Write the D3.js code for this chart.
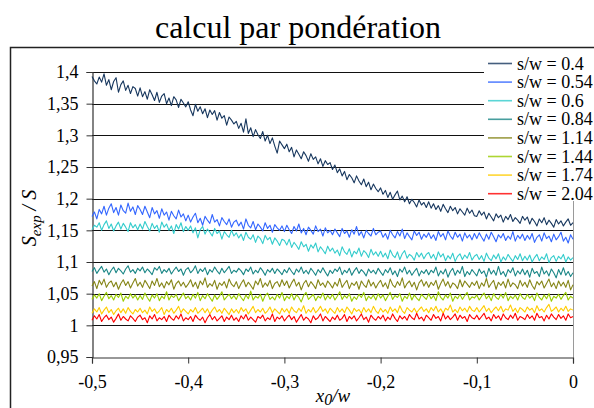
<!DOCTYPE html>
<html>
<head>
<meta charset="utf-8">
<title>calcul par pondération</title>
<script src="https://d3js.org/d3.v7.min.js"></script>
<style>
  body { margin: 0; background: #fff; }
  svg text { font-family: "Liberation Serif", "Times New Roman", serif; fill: #000; }
</style>
</head>
<body>
<svg width="594" height="408" font-family="Liberation Serif"></svg>
<script>
// legend labels and colours
const seriesNames = ["s/w = 0.4", "s/w = 0.54", "s/w = 0.6", "s/w = 0.84",
                     "s/w = 1.14", "s/w = 1.44", "s/w = 1.74", "s/w = 2.04"];
const seriesColors = ["#17375e", "#3366ff", "#33cccc", "#1a8686",
                      "#858517", "#99cc00", "#ffcc00", "#ff0000"];

// x0/w sample positions, every 0.0025 from -0.5 to 0
const xValues = d3.range(0, 201).map(i => -0.5 + i * 0.0025);

// axis ticks
const yTicks = [0.95, 1, 1.05, 1.1, 1.15, 1.2, 1.25, 1.3, 1.35, 1.4];
const yTickLabels = ["0,95", "1", "1,05", "1,1", "1,15", "1,2", "1,25", "1,3", "1,35", "1,4"];
const xTicks = [-0.5, -0.4, -0.3, -0.2, -0.1, 0];
const xTickLabels = ["-0,5", "-0,4", "-0,3", "-0,2", "-0,1", "0"];

// Sexp/S (201 samples per curve)
const sw040 = [
  1.393,1.386,1.381,1.392,1.384,1.397,1.379,1.388,1.372,1.385,1.391,1.368,1.380,1.386,1.371,1.379,1.366,1.377,1.374,1.362,
  1.375,1.361,1.369,1.357,1.372,1.364,1.355,1.368,1.352,1.362,1.366,1.350,1.359,1.347,1.361,1.356,1.344,1.357,1.351,1.345,
  1.353,1.340,1.331,1.349,1.338,1.345,1.334,1.342,1.328,1.340,1.333,1.339,1.324,1.336,1.327,1.331,1.316,1.329,1.324,1.318,
  1.322,1.311,1.319,1.305,1.326,1.303,1.312,1.298,1.309,1.301,1.295,1.306,1.291,1.300,1.287,1.296,1.283,1.272,1.291,1.285,
  1.279,1.286,1.274,1.281,1.266,1.277,1.270,1.263,1.274,1.268,1.259,1.271,1.262,1.266,1.255,1.263,1.251,1.260,1.254,1.257,
  1.246,1.253,1.241,1.247,1.236,1.243,1.230,1.238,1.233,1.225,1.236,1.228,1.222,1.231,1.219,1.226,1.214,1.223,1.216,1.211,
  1.217,1.207,1.213,1.202,1.210,1.199,1.206,1.212,1.198,1.204,1.195,1.203,1.192,1.199,1.194,1.187,1.198,1.190,1.194,1.186,
  1.195,1.185,1.192,1.183,1.189,1.180,1.191,1.184,1.178,1.188,1.181,1.186,1.176,1.184,1.179,1.174,1.185,1.177,1.182,1.173,
  1.172,1.181,1.174,1.179,1.168,1.177,1.171,1.165,1.176,1.170,1.174,1.163,1.172,1.167,1.175,1.164,1.170,1.166,1.161,1.172,
  1.166,1.171,1.160,1.169,1.164,1.157,1.168,1.162,1.170,1.159,1.166,1.161,1.155,1.167,1.160,1.165,1.157,1.163,1.168,1.158,1.162];
const sw054 = [
  1.172,1.179,1.168,1.183,1.176,1.188,1.174,1.185,1.192,1.178,1.186,1.174,1.190,1.181,1.177,1.193,1.180,1.187,1.175,1.189,
  1.183,1.175,1.188,1.179,1.170,1.186,1.176,1.181,1.169,1.184,1.174,1.179,1.166,1.180,1.173,1.168,1.182,1.171,1.176,1.165,
  1.174,1.163,1.171,1.177,1.162,1.169,1.158,1.172,1.166,1.161,1.175,1.163,1.167,1.157,1.170,1.164,1.159,1.168,1.155,1.163,
  1.166,1.157,1.163,1.152,1.168,1.158,1.154,1.164,1.151,1.160,1.155,1.149,1.162,1.153,1.158,1.147,1.159,1.154,1.150,1.157,
  1.148,1.158,1.151,1.145,1.156,1.149,1.160,1.146,1.153,1.143,1.155,1.150,1.144,1.157,1.148,1.152,1.141,1.154,1.146,1.150,
  1.143,1.152,1.146,1.140,1.153,1.145,1.149,1.139,1.151,1.144,1.156,1.142,1.148,1.138,1.150,1.145,1.141,1.153,1.143,1.147,
  1.149,1.139,1.145,1.136,1.150,1.143,1.138,1.148,1.141,1.152,1.137,1.146,1.140,1.135,1.149,1.142,1.147,1.136,1.144,1.139,
  1.146,1.137,1.143,1.134,1.148,1.140,1.145,1.135,1.149,1.141,1.136,1.147,1.139,1.144,1.133,1.146,1.138,1.143,1.135,1.145,
  1.137,1.146,1.139,1.133,1.144,1.136,1.147,1.140,1.132,1.143,1.138,1.145,1.134,1.141,1.136,1.148,1.133,1.142,1.137,1.144,
  1.134,1.142,1.136,1.145,1.131,1.139,1.143,1.133,1.146,1.137,1.141,1.132,1.144,1.135,1.140,1.147,1.133,1.139,1.130,1.143,1.136];
const sw060 = [
  1.151,1.158,1.155,1.162,1.150,1.159,1.165,1.153,1.160,1.149,1.157,1.163,1.152,1.161,1.155,1.148,1.162,1.154,1.159,1.151,
  1.160,1.152,1.164,1.156,1.149,1.161,1.153,1.158,1.147,1.163,1.155,1.160,1.150,1.157,1.145,1.159,1.152,1.162,1.148,1.156,
  1.150,1.157,1.146,1.154,1.138,1.151,1.156,1.144,1.152,1.147,1.141,1.153,1.145,1.149,1.136,1.148,1.143,1.139,1.150,1.141,
  1.146,1.138,1.144,1.134,1.147,1.139,1.136,1.143,1.131,1.141,1.137,1.129,1.142,1.135,1.139,1.128,1.138,1.133,1.126,1.136,
  1.134,1.127,1.136,1.123,1.131,1.126,1.120,1.132,1.124,1.128,1.117,1.127,1.122,1.130,1.116,1.124,1.119,1.113,1.125,1.117,
  1.122,1.114,1.119,1.110,1.124,1.116,1.112,1.121,1.108,1.117,1.113,1.122,1.109,1.118,1.114,1.107,1.120,1.111,1.116,1.109,
  1.117,1.108,1.114,1.105,1.119,1.111,1.107,1.116,1.104,1.113,1.118,1.106,1.112,1.109,1.103,1.115,1.108,1.114,1.105,1.112,
  1.115,1.106,1.112,1.103,1.116,1.108,1.113,1.102,1.110,1.105,1.114,1.101,1.109,1.113,1.104,1.111,1.106,1.115,1.103,1.109,
  1.112,1.104,1.110,1.101,1.114,1.106,1.102,1.111,1.105,1.113,1.100,1.108,1.103,1.112,1.106,1.101,1.110,1.104,1.113,1.102,
  1.109,1.103,1.111,1.100,1.107,1.112,1.102,1.108,1.104,1.113,1.099,1.107,1.110,1.101,1.109,1.105,1.112,1.100,1.108,1.103,1.107];
const sw084 = [
  1.085,1.091,1.082,1.088,1.093,1.084,1.089,1.080,1.087,1.092,1.083,1.090,1.086,1.081,1.089,1.094,1.084,1.088,1.082,1.090,
  1.086,1.092,1.083,1.089,1.085,1.080,1.091,1.087,1.093,1.082,1.088,1.084,1.090,1.081,1.087,1.092,1.085,1.089,1.079,1.088,
  1.091,1.083,1.087,1.094,1.082,1.089,1.085,1.091,1.080,1.088,1.084,1.092,1.086,1.081,1.090,1.083,1.088,1.093,1.082,1.087,
  1.084,1.090,1.086,1.080,1.089,1.085,1.092,1.081,1.087,1.083,1.091,1.086,1.079,1.088,1.084,1.090,1.082,1.089,1.085,1.080,
  1.088,1.083,1.091,1.085,1.080,1.089,1.084,1.092,1.082,1.087,1.081,1.090,1.085,1.079,1.088,1.083,1.091,1.084,1.078,1.087,
  1.082,1.089,1.085,1.092,1.080,1.087,1.083,1.090,1.079,1.086,1.091,1.082,1.088,1.084,1.078,1.089,1.083,1.087,1.081,1.090,
  1.084,1.079,1.088,1.083,1.091,1.080,1.086,1.077,1.089,1.084,1.092,1.081,1.087,1.079,1.085,1.090,1.078,1.086,1.082,1.088,
  1.080,1.087,1.083,1.092,1.078,1.086,1.081,1.089,1.076,1.085,1.090,1.079,1.087,1.082,1.093,1.077,1.085,1.080,1.088,1.083,
  1.078,1.089,1.082,1.086,1.076,1.090,1.081,1.087,1.079,1.093,1.080,1.085,1.077,1.088,1.083,1.091,1.078,1.086,1.081,1.089,
  1.080,1.087,1.076,1.090,1.082,1.085,1.077,1.092,1.081,1.086,1.078,1.089,1.083,1.075,1.088,1.080,1.091,1.079,1.085,1.077,1.083];
const sw114 = [
  1.062,1.069,1.058,1.071,1.064,1.073,1.060,1.067,1.070,1.061,1.068,1.057,1.066,1.072,1.063,1.069,1.059,1.067,1.074,1.062,
  1.068,1.060,1.071,1.065,1.058,1.070,1.063,1.074,1.061,1.067,1.059,1.069,1.064,1.072,1.057,1.066,1.070,1.062,1.068,1.060,
  1.065,1.072,1.061,1.068,1.058,1.070,1.064,1.075,1.060,1.066,1.062,1.071,1.057,1.067,1.063,1.069,1.059,1.073,1.065,1.061,
  1.069,1.058,1.066,1.072,1.061,1.068,1.063,1.057,1.070,1.064,1.074,1.060,1.067,1.062,1.071,1.058,1.066,1.069,1.061,1.072,
  1.063,1.070,1.059,1.067,1.073,1.062,1.068,1.056,1.066,1.071,1.061,1.069,1.064,1.058,1.072,1.063,1.067,1.060,1.070,1.065,
  1.059,1.068,1.062,1.074,1.060,1.066,1.071,1.058,1.067,1.063,1.069,1.057,1.070,1.064,1.060,1.072,1.062,1.068,1.059,1.066,
  1.071,1.061,1.067,1.058,1.073,1.064,1.060,1.069,1.063,1.075,1.059,1.066,1.070,1.061,1.068,1.056,1.067,1.072,1.062,1.069,
  1.060,1.068,1.063,1.071,1.057,1.066,1.073,1.062,1.069,1.059,1.067,1.064,1.058,1.072,1.061,1.070,1.065,1.060,1.068,1.063,
  1.070,1.058,1.067,1.062,1.074,1.060,1.066,1.071,1.057,1.068,1.063,1.069,1.059,1.073,1.061,1.067,1.064,1.058,1.071,1.062,
  1.068,1.060,1.072,1.063,1.057,1.069,1.064,1.070,1.059,1.066,1.073,1.061,1.067,1.058,1.070,1.062,1.068,1.060,1.071,1.056,1.064];
const sw144 = [
  1.041,1.048,1.043,1.050,1.039,1.046,1.052,1.042,1.047,1.040,1.049,1.044,1.051,1.038,1.046,1.042,1.050,1.043,1.048,1.040,
  1.047,1.041,1.051,1.044,1.038,1.048,1.043,1.050,1.039,1.046,1.042,1.053,1.040,1.047,1.044,1.049,1.039,1.045,1.051,1.042,
  1.046,1.040,1.049,1.043,1.052,1.039,1.047,1.042,1.050,1.044,1.038,1.048,1.041,1.046,1.053,1.040,1.045,1.049,1.042,1.047,
  1.041,1.050,1.044,1.039,1.048,1.042,1.054,1.040,1.046,1.043,1.049,1.038,1.047,1.051,1.041,1.045,1.040,1.049,1.043,1.052,
  1.039,1.046,1.042,1.050,1.040,1.048,1.044,1.037,1.047,1.052,1.041,1.045,1.049,1.039,1.046,1.043,1.051,1.040,1.047,1.042,
  1.049,1.040,1.046,1.053,1.041,1.047,1.043,1.050,1.038,1.045,1.041,1.049,1.044,1.052,1.039,1.046,1.042,1.048,1.040,1.050,
  1.043,1.048,1.039,1.046,1.052,1.041,1.047,1.044,1.050,1.038,1.046,1.042,1.051,1.040,1.048,1.043,1.039,1.049,1.045,1.041,
  1.050,1.042,1.047,1.039,1.053,1.044,1.040,1.048,1.043,1.051,1.038,1.046,1.042,1.049,1.041,1.047,1.052,1.040,1.045,1.043,
  1.048,1.040,1.046,1.051,1.042,1.047,1.039,1.050,1.044,1.041,1.049,1.043,1.052,1.039,1.046,1.042,1.048,1.040,1.050,1.044,
  1.041,1.049,1.043,1.047,1.039,1.051,1.044,1.040,1.048,1.042,1.050,1.038,1.046,1.043,1.049,1.041,1.047,1.052,1.040,1.046,1.043];
const sw174 = [
  1.019,1.026,1.021,1.028,1.018,1.024,1.029,1.020,1.025,1.017,1.023,1.027,1.020,1.026,1.019,1.028,1.022,1.018,1.025,1.021,
  1.027,1.020,1.024,1.018,1.029,1.022,1.026,1.019,1.023,1.028,1.017,1.025,1.021,1.027,1.019,1.024,1.030,1.020,1.026,1.022,
  1.018,1.025,1.021,1.028,1.019,1.023,1.027,1.020,1.026,1.018,1.024,1.029,1.021,1.025,1.019,1.027,1.022,1.017,1.026,1.020,
  1.025,1.019,1.028,1.022,1.026,1.018,1.024,1.030,1.020,1.025,1.021,1.027,1.019,1.023,1.029,1.020,1.026,1.022,1.018,1.027,
  1.021,1.026,1.019,1.029,1.023,1.020,1.027,1.022,1.031,1.019,1.025,1.021,1.028,1.020,1.024,1.030,1.022,1.026,1.019,1.027,
  1.023,1.019,1.028,1.021,1.026,1.020,1.029,1.024,1.018,1.027,1.022,1.025,1.019,1.028,1.021,1.026,1.020,1.030,1.023,1.019,
  1.027,1.021,1.025,1.019,1.029,1.022,1.026,1.020,1.031,1.023,1.019,1.028,1.024,1.021,1.027,1.020,1.025,1.029,1.022,1.026,
  1.020,1.028,1.023,1.030,1.021,1.026,1.019,1.027,1.024,1.032,1.021,1.025,1.020,1.029,1.023,1.027,1.021,1.030,1.024,1.022,
  1.028,1.021,1.026,1.031,1.022,1.027,1.020,1.025,1.029,1.023,1.030,1.021,1.026,1.024,1.032,1.022,1.027,1.020,1.028,1.025,
  1.021,1.029,1.024,1.027,1.020,1.031,1.023,1.026,1.021,1.028,1.033,1.022,1.025,1.029,1.021,1.027,1.023,1.030,1.022,1.026,1.024];
const sw204 = [
  1.008,1.015,1.010,1.017,1.006,1.012,1.016,1.009,1.013,1.005,1.011,1.018,1.008,1.014,1.010,1.007,1.015,1.011,1.006,1.013,
  1.016,1.009,1.012,1.004,1.015,1.010,1.017,1.007,1.012,1.009,1.014,1.006,1.016,1.011,1.008,1.015,1.010,1.018,1.007,1.012,
  1.009,1.014,1.006,1.016,1.011,1.008,1.013,1.004,1.012,1.017,1.009,1.014,1.007,1.011,1.015,1.006,1.013,1.009,1.016,1.008,
  1.012,1.006,1.015,1.010,1.017,1.008,1.013,1.009,1.005,1.014,1.011,1.016,1.007,1.012,1.009,1.018,1.006,1.013,1.010,1.015,
  1.007,1.012,1.016,1.009,1.014,1.005,1.011,1.017,1.008,1.013,1.010,1.004,1.015,1.009,1.012,1.018,1.007,1.014,1.010,1.006,
  1.013,1.009,1.016,1.008,1.011,1.017,1.006,1.014,1.010,1.015,1.007,1.012,1.018,1.009,1.013,1.005,1.016,1.011,1.008,1.014,
  1.010,1.016,1.007,1.013,1.009,1.018,1.011,1.006,1.015,1.010,1.014,1.008,1.017,1.012,1.009,1.019,1.010,1.013,1.007,1.016,
  1.012,1.008,1.017,1.011,1.014,1.007,1.019,1.010,1.015,1.009,1.013,1.018,1.008,1.016,1.011,1.014,1.006,1.017,1.012,1.010,
  1.016,1.009,1.014,1.019,1.010,1.013,1.007,1.017,1.011,1.015,1.008,1.018,1.012,1.009,1.016,1.011,1.019,1.008,1.014,1.012,
  1.009,1.017,1.011,1.015,1.008,1.019,1.012,1.014,1.007,1.016,1.010,1.018,1.013,1.009,1.017,1.011,1.015,1.008,1.018,1.012,1.014];

const seriesValues = [sw040, sw054, sw060, sw084, sw114, sw144, sw174, sw204];

const svg = d3.select("svg");
const serif = '"Liberation Serif", "Times New Roman", serif';
const plot = { left: 92, right: 573, top: 72, bottom: 357 };

const x = d3.scaleLinear().domain([-0.5, 0]).range([plot.left, plot.right]);
const y = d3.scaleLinear().domain([0.95, 1.4]).range([plot.bottom, plot.top]);

// outer frame (cut by the picture on the right and bottom)
svg.append("path")
  .attr("d", "M10.5,420 V47.5 H600")
  .attr("fill", "none")
  .attr("stroke", "#222")
  .attr("stroke-width", 1.5);

// title
svg.append("text")
  .attr("x", 298).attr("y", 38)
  .attr("text-anchor", "middle")
  .style("font-family", serif)
  .style("font-size", "32px")
  .text("calcul par pondération");

// horizontal grid lines
svg.append("g")
  .selectAll("line")
  .data(yTicks.filter(v => v > 0.95))
  .join("line")
  .attr("x1", plot.left).attr("x2", plot.right)
  .attr("y1", d => Math.round(y(d)) + 0.5).attr("y2", d => Math.round(y(d)) + 0.5)
  .attr("stroke", "#111")
  .attr("stroke-width", 1);

// right border of plot area
svg.append("line")
  .attr("x1", plot.right + 0.5).attr("x2", plot.right + 0.5)
  .attr("y1", plot.top).attr("y2", plot.bottom)
  .attr("stroke", "#9a9a9a");

// axes
const yAxis = svg.append("g")
  .attr("transform", `translate(${plot.left + 0.5},0)`)
  .call(d3.axisLeft(y).tickValues(yTicks).tickSize(6).tickPadding(8)
    .tickFormat((d, i) => yTickLabels[i]));
const xAxis = svg.append("g")
  .attr("transform", `translate(0,${plot.bottom + 0.5})`)
  .call(d3.axisBottom(x).tickValues(xTicks).tickSize(6).tickPadding(12)
    .tickFormat((d, i) => xTickLabels[i]));

[yAxis, xAxis].forEach(a => {
  a.attr("font-family", null).attr("font-size", null);
  a.select(".domain").attr("stroke", "#333").attr("stroke-width", 1.2);
  a.selectAll(".tick line").attr("stroke", "#333");
  a.selectAll(".tick text")
    .style("font-family", serif)
    .style("font-size", "18px")
    .attr("fill", "#000");
});

// curves
const line = d3.line()
  .x((d, i) => x(xValues[i]))
  .y(d => y(d));

svg.append("g")
  .selectAll("path")
  .data(seriesValues)
  .join("path")
  .attr("d", d => line(d))
  .attr("fill", "none")
  .attr("stroke", (d, i) => seriesColors[i])
  .attr("stroke-width", 1.1)
  .attr("stroke-linejoin", "round");

// legend (white box over the plot, top right)
const legend = svg.append("g");
legend.append("rect")
  .attr("x", 484).attr("y", 55)
  .attr("width", 112).attr("height", 146)
  .attr("fill", "#fff");

const items = legend.selectAll("g.item")
  .data(seriesNames)
  .join("g")
  .attr("class", "item")
  .attr("transform", (d, i) => `translate(0,${63.5 + i * 18.6})`);
items.append("line")
  .attr("x1", 488).attr("x2", 512)
  .attr("stroke", (d, i) => seriesColors[i])
  .attr("stroke-width", 1.6)
  .attr("opacity", 0.8);
items.append("text")
  .attr("x", 517).attr("y", 6)
  .style("font-family", serif)
  .style("font-size", "18px")
  .text(d => d);

// axis titles
const yt = svg.append("text")
  .attr("transform", "translate(36,218) rotate(-90)")
  .attr("text-anchor", "middle")
  .style("font-family", serif)
  .style("font-size", "20px")
  .style("font-style", "italic");
yt.append("tspan").text("S");
yt.append("tspan").attr("dy", 5).style("font-size", "15px").text("exp");
yt.append("tspan").attr("dy", -5).text(" / S");

const xt = svg.append("text")
  .attr("x", 333).attr("y", 402)
  .attr("text-anchor", "middle")
  .style("font-family", serif)
  .style("font-size", "19px")
  .style("font-style", "italic");
xt.append("tspan").text("x");
xt.append("tspan").attr("dy", 3).style("font-size", "16px").text("0");
xt.append("tspan").attr("dy", -3).text("/w");
</script>
</body>
</html>
